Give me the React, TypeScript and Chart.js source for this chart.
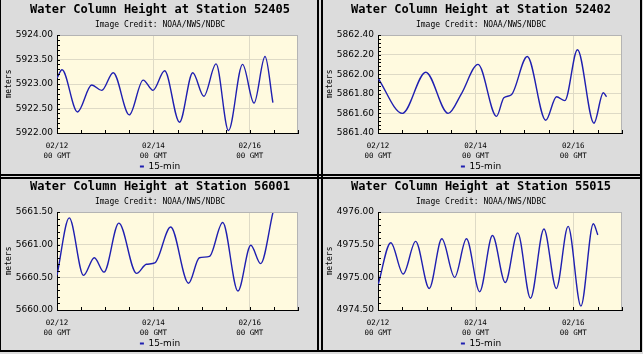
import { useEffect, useRef } from 'react';
import { Chart, registerables } from 'chart.js';

Chart.register(...registerables);

// ---------------- data ----------------
const tickHours = [0, 48, 96];
const tickDates = ['02/12', '02/14', '02/16'];
const tickTime = '00 GMT';
const seriesLabel = '15-min';
const creditText = 'Image Credit: NOAA/NWS/NDBC';
const yAxisLabel = 'meters';
const titlePrefix = 'Water Column Height at Station ';

// hours after 02/12 00 GMT
const hours52405 = [0, 2.5, 10.2, 17.3, 22.3, 28.0, 36.0, 42.9, 47.8, 53.6, 61.0, 67.6, 73.1, 79.2, 85.4, 92.4, 98.1, 103.6, 107.5];
const heights52405 = [5923.12, 5923.29, 5922.43, 5922.98, 5922.87, 5923.23, 5922.37, 5923.08, 5922.87, 5923.27, 5922.22, 5923.23, 5922.75, 5923.41, 5922.05, 5923.40, 5922.61, 5923.56, 5922.62];

const hours52402 = [0, 12.0, 23.5, 34.5, 41.0, 49.2, 58.3, 61.9, 65.6, 73.4, 82.5, 87.8, 91.9, 98.1, 106.2, 110.8, 112.4];
const heights52402 = [5861.96, 5861.60, 5862.02, 5861.60, 5861.80, 5862.10, 5861.57, 5861.76, 5861.79, 5862.18, 5861.53, 5861.77, 5861.73, 5862.25, 5861.50, 5861.81, 5861.77];

const hours56001 = [0, 6.1, 13.2, 18.6, 23.4, 30.8, 39.6, 44.5, 48.7, 56.6, 65.5, 70.9, 75.9, 82.5, 90.1, 96.5, 101.4, 107.5];
const heights56001 = [5660.53, 5661.41, 5660.53, 5660.80, 5660.58, 5661.33, 5660.56, 5660.70, 5660.72, 5661.27, 5660.41, 5660.80, 5660.82, 5661.34, 5660.29, 5660.99, 5660.71, 5661.49];

const hours55015 = [0, 6.3, 12.4, 18.5, 25.2, 31.4, 37.7, 43.5, 50.0, 56.3, 62.6, 68.7, 75.0, 81.6, 87.7, 93.5, 99.8, 105.9, 108.1];
const heights55015 = [4974.88, 4975.53, 4975.05, 4975.55, 4974.83, 4975.59, 4975.00, 4975.59, 4974.78, 4975.64, 4974.92, 4975.68, 4974.68, 4975.74, 4974.83, 4975.78, 4974.56, 4975.82, 4975.65];

// axis ranges: [min, max, label step, minor step]
const range52405 = [5922, 5924, 0.5, 0.1];
const range52402 = [5861.4, 5862.4, 0.2, 0.04];
const range56001 = [5660, 5661.5, 0.5, 0.1];
const range55015 = [4974.5, 4976, 0.5, 0.1];

const xRange = [0, 120, 12];

// ---------------- styles ----------------
const PANEL_BG = '#dcdcdc';
const PLOT_BG = '#fffadf';
const GRID = '#dedac6';
const LINE = '#1f1fb0';
const CANVAS_W = 320;
const CANVAS_H = 190;

const framePlugin: any = {
  id: 'frame',
  beforeDraw(chart: any, _a: any, opts: any) {
    const { ctx, chartArea: a } = chart;
    ctx.save();
    ctx.fillStyle = opts.background;
    ctx.fillRect(a.left, a.top, a.right - a.left, a.bottom - a.top);
    ctx.restore();
  },
  afterDraw(chart: any, _a: any, opts: any) {
    const { ctx, chartArea: a, scales } = chart;
    const xs = scales.x;
    const ys = scales.y;
    ctx.save();
    ctx.lineWidth = 1;
    ctx.strokeStyle = opts.edgeColor;
    ctx.beginPath();
    const ty = Math.round(a.top) + 0.5;
    const rx = Math.round(a.right) - 0.5;
    ctx.moveTo(a.left, ty);
    ctx.lineTo(a.right, ty);
    ctx.moveTo(rx, a.top);
    ctx.lineTo(rx, a.bottom);
    ctx.stroke();
    ctx.strokeStyle = '#000';
    ctx.beginPath();
    const n = Math.round((ys.max - ys.min) / opts.minorStep);
    for (let k = 0; k <= n; k++) {
      const py = Math.round(ys.getPixelForValue(ys.min + k * opts.minorStep)) + 0.5;
      ctx.moveTo(a.left, py);
      ctx.lineTo(a.left + opts.tickLen, py);
    }
    const m = Math.round((xs.max - xs.min) / opts.xStep);
    for (let k = 0; k <= m; k++) {
      const px = Math.round(xs.getPixelForValue(xs.min + k * opts.xStep)) + 0.5;
      ctx.moveTo(px, a.bottom);
      ctx.lineTo(px, a.bottom - opts.tickLen);
    }
    ctx.stroke();
    ctx.restore();
  },
};

function Panel(props: any) {
  const { station, hours, heights, range, left, top, rightGap } = props;
  const ref = useRef<HTMLCanvasElement>(null);
  useEffect(() => {
    const [yMin, yMax, yStep, yMinor] = range;
    const chart = new Chart(ref.current as HTMLCanvasElement, {
      type: 'line',
      data: {
        datasets: [
          {
            label: seriesLabel,
            data: hours.map((h: number, i: number) => ({ x: h, y: heights[i] })),
            borderColor: LINE,
            backgroundColor: LINE,
            borderWidth: 1.4,
            pointRadius: 0,
            cubicInterpolationMode: 'monotone',
            fill: false,
          } as any,
        ],
      },
      options: {
        animation: false,
        responsive: false,
        devicePixelRatio: 1,
        layout: { padding: { left: 0, right: 0, top: 0, bottom: 9 } },
        scales: {
          x: {
            type: 'linear',
            min: xRange[0],
            max: xRange[1],
            afterFit: (s: any) => { s.height = 29; },
            grid: {
              drawTicks: false,
              color: (c: any) =>
                c.tick && c.tick.value !== 0 && tickHours.includes(c.tick.value) ? GRID : 'rgba(0,0,0,0)',
            },
            border: { display: true, color: '#000', width: 1 },
            ticks: {
              stepSize: xRange[2],
              autoSkip: false,
              maxRotation: 0,
              padding: 8,
              color: '#000',
              font: { family: 'DejaVu Sans Mono', size: 7.5, lineHeight: 1.3 },
              callback: (v: any) => {
                const i = tickHours.indexOf(Number(v));
                return i >= 0 ? [tickDates[i], tickTime] : '';
              },
            },
          },
          y: {
            type: 'linear',
            min: yMin,
            max: yMax,
            afterFit: (s: any) => { s.width = 57; },
            grid: { drawTicks: false, color: GRID },
            border: { display: true, color: '#000', width: 1 },
            ticks: {
              stepSize: yStep,
              padding: 4,
              color: '#000',
              font: { family: 'DejaVu Sans', size: 9 },
              callback: (v: any) => Number(v).toFixed(2),
            },
            title: {
              display: true,
              text: yAxisLabel,
              color: '#000',
              font: { family: 'DejaVu Sans Mono', size: 8 },
              padding: { top: 4, bottom: 0 },
            },
          },
          gap: {
            type: 'linear',
            position: 'right',
            display: true,
            afterFit: (s: any) => { s.width = rightGap; },
            grid: { display: false, drawTicks: false },
            border: { display: false },
            ticks: { display: false },
          },
        },
        plugins: {
          title: {
            display: true,
            text: titlePrefix + station,
            color: '#000',
            font: { family: 'DejaVu Sans Mono', size: 12, weight: 'bold', lineHeight: 1.2 },
            padding: { top: 3, bottom: 0 },
          },
          subtitle: {
            display: true,
            text: creditText,
            color: '#000',
            font: { family: 'DejaVu Sans Mono', size: 8, lineHeight: 1.2 },
            padding: { top: 3, bottom: 5 },
          },
          legend: {
            display: true,
            position: 'bottom',
            labels: {
              color: '#000',
              font: { family: 'DejaVu Sans', size: 9 },
              boxWidth: 4,
              boxHeight: 2,
              padding: 0,
              generateLabels: (ch: any) =>
                (Chart.defaults.plugins.legend.labels.generateLabels as any)(ch).map((it: any) => ({
                  ...it,
                  lineWidth: 0,
                  fillStyle: LINE,
                })),
            },
          },
          tooltip: { enabled: false },
          frame: {
            background: PLOT_BG,
            edgeColor: '#b4b4b4',
            minorStep: yMinor,
            xStep: xRange[2],
            tickLen: 3,
          },
        } as any,
      },
      plugins: [framePlugin],
    });
    return () => chart.destroy();
  }, []);
  return (
    <canvas
      ref={ref}
      width={CANVAS_W}
      height={CANVAS_H}
      style={{ position: 'absolute', left, top, width: CANVAS_W, height: CANVAS_H }}
    />
  );
}

function Line(props: any) {
  return <div style={{ position: 'absolute', background: '#000', zIndex: 5, ...props.s }} />;
}

export default function App() {
  return (
    <div
      style={{
        position: 'absolute',
        left: 0,
        top: 0,
        width: 643,
        height: 354,
        background: PANEL_BG,
        overflow: 'hidden',
      }}
    >
      <Panel station="52405" hours={hours52405} heights={heights52405} range={range52405} left={0} top={0} rightGap={22} />
      <Panel station="52402" hours={hours52402} heights={heights52402} range={range52402} left={321} top={0} rightGap={19} />
      <Panel station="56001" hours={hours56001} heights={heights56001} range={range56001} left={0} top={177} rightGap={22} />
      <Panel station="55015" hours={hours55015} heights={heights55015} range={range55015} left={321} top={177} rightGap={19} />
      <Line s={{ left: 317, top: 0, width: 2, height: 352 }} />
      <Line s={{ left: 321, top: 0, width: 2, height: 352 }} />
      <Line s={{ left: 0, top: 174, width: 642, height: 2 }} />
      <Line s={{ left: 0, top: 177, width: 642, height: 2 }} />
      <Line s={{ left: 0, top: 0, width: 1, height: 352 }} />
      <Line s={{ left: 640, top: 0, width: 2, height: 352 }} />
      <Line s={{ left: 0, top: 350, width: 642, height: 2 }} />
    </div>
  );
}
